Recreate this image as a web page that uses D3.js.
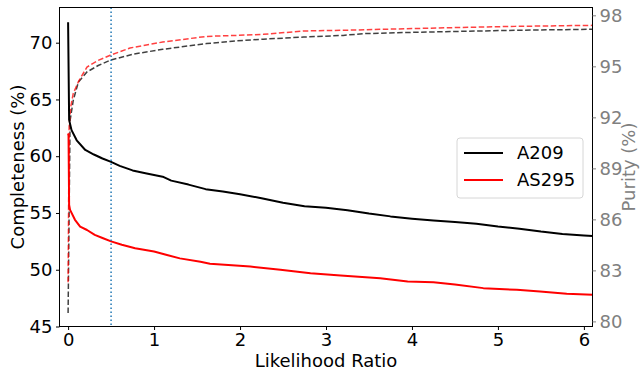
<!DOCTYPE html>
<html>
<head>
<meta charset="utf-8">
<script src="https://cdn.jsdelivr.net/npm/d3@7"></script>
<style>
  html, body { margin: 0; padding: 0; background: #fff; }
  svg { display: block; font-family: "DejaVu Sans", sans-serif; }
</style>
</head>
<body>
<svg id="chart" width="640" height="374"></svg>
<script>
// ---- Data ----
const a209CompX = [0, 0.012, 0.04, 0.1, 0.2, 0.3, 0.4, 0.5, 0.6, 0.75, 0.9, 1.0, 1.1, 1.2, 1.4, 1.6, 1.8, 2.0, 2.25, 2.5, 2.75, 3.0, 3.25, 3.5, 3.75, 4.0, 4.25, 4.5, 4.75, 5.0, 5.25, 5.5, 5.75, 6.0, 6.1];
const a209Comp  = [71.8, 63.2, 62.3, 61.4, 60.55, 60.15, 59.8, 59.5, 59.15, 58.75, 58.5, 58.35, 58.2, 57.85, 57.5, 57.1, 56.9, 56.65, 56.3, 55.9, 55.6, 55.45, 55.25, 54.95, 54.7, 54.5, 54.33, 54.2, 54.05, 53.8, 53.62, 53.36, 53.15, 53.02, 52.98];

const as295CompX = [0, 0.005, 0.012, 0.023, 0.08, 0.14, 0.22, 0.31, 0.4, 0.5, 0.625, 0.78, 1.0, 1.15, 1.3, 1.54, 1.65, 2.12, 2.47, 2.82, 3.17, 3.63, 3.95, 4.25, 4.5, 4.83, 5.22, 5.49, 5.8, 6.1];
const as295Comp  = [62.0, 61.8, 55.7, 55.27, 54.4, 53.8, 53.5, 53.07, 52.8, 52.5, 52.2, 51.9, 51.6, 51.3, 51.0, 50.7, 50.52, 50.28, 49.99, 49.7, 49.5, 49.26, 48.96, 48.9, 48.7, 48.38, 48.23, 48.08, 47.88, 47.79];

const a209PurX = [0, 0.023, 0.06, 0.12, 0.22, 0.35, 0.49, 0.76, 1.1, 1.61, 1.96, 2.27, 2.74, 3.2, 3.43, 3.83, 4.5, 5.2, 6.1];
const a209Pur  = [80.5, 91.8, 93.0, 94.08, 94.67, 95.05, 95.36, 95.72, 96.0, 96.34, 96.5, 96.6, 96.72, 96.82, 96.92, 96.98, 97.05, 97.12, 97.18];

const as295PurX = [0, 0.012, 0.03, 0.06, 0.12, 0.22, 0.35, 0.49, 0.72, 1.1, 1.61, 1.96, 2.27, 2.74, 3.2, 3.83, 4.5, 5.2, 6.1];
const as295Pur  = [82.3, 91.45, 92.6, 93.4, 94.1, 94.96, 95.35, 95.65, 96.08, 96.43, 96.76, 96.82, 96.88, 97.08, 97.12, 97.2, 97.28, 97.35, 97.41];

const thresholdLR = 0.5;
const xTicks = [0, 1, 2, 3, 4, 5, 6];
const leftTicks = [45, 50, 55, 60, 65, 70];
const rightTicks = [80, 83, 86, 89, 92, 95, 98];
const legendNames = ["A209", "AS295"];
const legendColors = ["#000000", "#ff0000"];

// ---- Layout ----
const L = 59.5, R = 592.5, T = 7.5, B = 326.5;
const svg = d3.select("#chart");

const x = d3.scaleLinear().domain([-0.1, 6.1]).range([L, R]);
const yL = d3.scaleLinear().domain([45, 73.1]).range([B, T]);
const yR = d3.scaleLinear().domain([79.7, 98.46]).range([B, T]);

svg.append("defs").append("clipPath").attr("id", "clip")
  .append("rect").attr("x", L).attr("y", T).attr("width", R - L).attr("height", B - T);

const plot = svg.append("g").attr("clip-path", "url(#clip)");

const line = (xs, ys, ys_scale) => d3.line()
  .x((d, i) => x(xs[i]))
  .y(d => ys_scale(d))(ys);

// Purity dashed lines (right axis)
plot.append("path").attr("d", line(a209PurX, a209Pur, yR))
  .attr("fill", "none").attr("stroke", "#000").attr("stroke-opacity", 0.75)
  .attr("stroke-width", 1.5).attr("stroke-dasharray", "5.5,2.5");
plot.append("path").attr("d", line(as295PurX, as295Pur, yR))
  .attr("fill", "none").attr("stroke", "#ff0000").attr("stroke-opacity", 0.75)
  .attr("stroke-width", 1.5).attr("stroke-dasharray", "5.5,2.5");

// Completeness solid lines (left axis)
plot.append("path").attr("d", line(a209CompX, a209Comp, yL))
  .attr("fill", "none").attr("stroke", "#000").attr("stroke-width", 2)
  .attr("stroke-linejoin", "round");
plot.append("path").attr("d", line(as295CompX, as295Comp, yL))
  .attr("fill", "none").attr("stroke", "#ff0000").attr("stroke-width", 2)
  .attr("stroke-linejoin", "round");

// Threshold dotted line
plot.append("line")
  .attr("x1", x(thresholdLR)).attr("x2", x(thresholdLR))
  .attr("y1", T).attr("y2", B)
  .attr("stroke", "#1f77b4").attr("stroke-width", 1.5)
  .attr("stroke-dasharray", "1.5,2.5");

// Frame
svg.append("rect").attr("x", L).attr("y", T).attr("width", R - L).attr("height", B - T)
  .attr("fill", "none").attr("stroke", "#000").attr("stroke-width", 1);

// Axes
const fs = 18;
const gx = svg.append("g").attr("transform", `translate(0,${B})`)
  .call(d3.axisBottom(x).tickValues(xTicks).tickFormat(d3.format("d")).tickSizeOuter(0).tickSize(3.5).tickPadding(3));
const gl = svg.append("g").attr("transform", `translate(${L},0)`)
  .call(d3.axisLeft(yL).tickValues(leftTicks).tickFormat(d3.format("d")).tickSizeOuter(0).tickSize(3.5).tickPadding(3.5));
const gr = svg.append("g").attr("transform", `translate(${R},0)`)
  .call(d3.axisRight(yR).tickValues(rightTicks).tickFormat(d3.format("d")).tickSizeOuter(0).tickSize(3.5).tickPadding(3.5));

[gx, gl, gr].forEach(g => {
  g.select(".domain").remove();
  g.selectAll("text").attr("font-size", fs).attr("font-family", "DejaVu Sans");
});
gx.selectAll("text").attr("fill", "#000");
gx.selectAll("line").attr("stroke", "#000");
gl.selectAll("text").attr("fill", "#000");
gl.selectAll("line").attr("stroke", "#000");
gr.selectAll("text").attr("fill", "#808080");
gr.selectAll("line").attr("stroke", "#808080");

// Axis labels
svg.append("text").attr("x", (L + R) / 2).attr("y", 367)
  .attr("text-anchor", "middle").attr("font-size", fs).attr("fill", "#000")
  .text("Likelihood Ratio");
svg.append("text").attr("transform", `translate(24,${(T + B) / 2}) rotate(-90)`)
  .attr("text-anchor", "middle").attr("font-size", fs).attr("fill", "#000")
  .text("Completeness (%)");
svg.append("text").attr("transform", `translate(635,${(T + B) / 2}) rotate(-90)`)
  .attr("text-anchor", "middle").attr("font-size", fs).attr("fill", "#808080")
  .text("Purity (%)");

// Legend
const lg = svg.append("g");
lg.append("rect").attr("x", 457).attr("y", 138).attr("width", 126).attr("height", 60)
  .attr("rx", 3).attr("fill", "#fff").attr("fill-opacity", 0.8)
  .attr("stroke", "#d6d6d6").attr("stroke-width", 1);
legendNames.forEach((n, i) => {
  const yy = 153 + i * 27;
  lg.append("line").attr("x1", 464).attr("x2", 503).attr("y1", yy).attr("y2", yy)
    .attr("stroke", legendColors[i]).attr("stroke-width", 2);
  lg.append("text").attr("x", 517).attr("y", yy).attr("dy", "0.35em")
    .attr("font-size", fs).attr("fill", "#000").text(n);
});
</script>
</body>
</html>
